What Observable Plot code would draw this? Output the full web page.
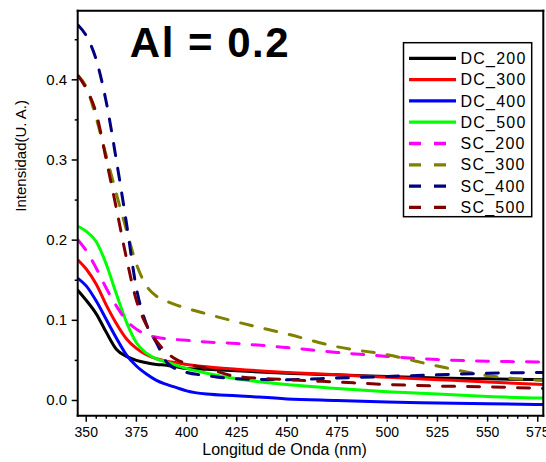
<!DOCTYPE html>
<html><head><meta charset="utf-8">
<script src="https://cdn.jsdelivr.net/npm/d3@7"></script>
<script src="https://cdn.jsdelivr.net/npm/@observablehq/plot@0.6"></script>
<style>
html,body{margin:0;padding:0;background:#fff;overflow:hidden;}
#chart{position:relative;width:546px;height:462px;}
#chart svg{display:block;}
</style></head><body><div id="chart"></div>
<script>
const wavelengths = [346, 350, 355, 360, 365, 370, 375, 380, 385, 390, 395, 400, 410, 425, 450, 475, 500, 525, 550, 578];
const DC_200 = [0.137, 0.125, 0.108, 0.085, 0.064, 0.055, 0.050, 0.047, 0.045, 0.044, 0.042, 0.040, 0.039, 0.037, 0.034, 0.032, 0.030, 0.028, 0.027, 0.026];
const DC_300 = [0.175, 0.164, 0.145, 0.119, 0.096, 0.077, 0.065, 0.057, 0.052, 0.049, 0.047, 0.045, 0.042, 0.039, 0.035, 0.032, 0.029, 0.026, 0.023, 0.020];
const DC_400 = [0.152, 0.143, 0.124, 0.101, 0.078, 0.057, 0.043, 0.033, 0.025, 0.020, 0.016, 0.012, 0.008, 0.006, 0.002, 0.000, -0.002, -0.003, -0.004, -0.005];
const DC_500 = [0.217, 0.211, 0.198, 0.170, 0.133, 0.098, 0.072, 0.059, 0.052, 0.048, 0.044, 0.040, 0.034, 0.027, 0.020, 0.015, 0.011, 0.008, 0.005, 0.003];
const SC_200 = [0.200, 0.187, 0.165, 0.140, 0.118, 0.100, 0.089, 0.082, 0.079, 0.077, 0.076, 0.075, 0.073, 0.071, 0.066, 0.060, 0.055, 0.051, 0.049, 0.048];
const SC_300 = [0.405, 0.391, 0.352, 0.305, 0.258, 0.213, 0.170, 0.143, 0.130, 0.124, 0.119, 0.115, 0.108, 0.098, 0.083, 0.067, 0.057, 0.043, 0.031, 0.025];
const SC_400 = [0.468, 0.455, 0.425, 0.372, 0.300, 0.222, 0.140, 0.095, 0.072, 0.048, 0.039, 0.035, 0.031, 0.027, 0.026, 0.028, 0.030, 0.032, 0.034, 0.035];
const SC_500 = [0.405, 0.389, 0.358, 0.300, 0.240, 0.178, 0.125, 0.094, 0.074, 0.060, 0.051, 0.046, 0.040, 0.030, 0.026, 0.023, 0.020, 0.018, 0.017, 0.015];

const seriesNames = ["DC_200", "DC_300", "DC_400", "DC_500", "SC_200", "SC_300", "SC_400", "SC_500"];
const seriesValues = [DC_200, DC_300, DC_400, DC_500, SC_200, SC_300, SC_400, SC_500];
const seriesColors = ["#000000", "#ff0000", "#0000ff", "#00ff00", "#ff00ff", "#808000", "#000080", "#800000"];
const seriesDashed = [false, false, false, false, true, true, true, true];

const xDomain = [346, 578];
const yDomain = [-0.0196, 0.4856];
const xMajorTicks = [350, 375, 400, 425, 450, 475, 500, 525, 550, 575];
const xMinorTicks = [355, 360, 365, 370, 380, 385, 390, 395, 405, 410, 415, 420, 430, 435, 440, 445, 455, 460, 465, 470, 480, 485, 490, 495, 505, 510, 515, 520, 530, 535, 540, 545, 555, 560, 565, 570];
const yMajorTicks = [0, 0.1, 0.2, 0.3, 0.4];
const yMinorTicks = [0.05, 0.15, 0.25, 0.35, 0.45];

const titleText = "Al = 0.2";
const xLabel = "Longitud de Onda (nm)";
const yLabel = "Intensidad(U. A.)";

const rows = seriesNames.flatMap((name, i) => wavelengths.map((w, j) => ({series: name, wl: w, v: seriesValues[i][j]})));

const lineMarks = seriesNames.map((name, i) => Plot.line(rows.filter(d => d.series === name), {
  x: "wl", y: "v", stroke: seriesColors[i], strokeWidth: 3,
  strokeDasharray: seriesDashed[i] ? "12,13" : null,
  curve: "monotone-x", clip: true
}));

const plot = Plot.plot({
  width: 546, height: 462,
  marginLeft: 77.7, marginRight: 2.7, marginTop: 10.7, marginBottom: 46.3,
  style: {fontFamily: "'Liberation Sans', Arial, sans-serif", background: "white", color: "black", overflow: "visible"},
  x: {domain: xDomain},
  y: {domain: yDomain},
  marks: [
    ...lineMarks,
    Plot.axisX(xMajorTicks, {tickSize: 6, tickPadding: 5, fontSize: 14, strokeWidth: 1.5, tickFormat: d => String(d), label: null}),
    Plot.axisX(xMinorTicks, {tickSize: 3, strokeWidth: 1.5, tickFormat: () => "", label: null}),
    Plot.axisY(yMajorTicks, {tickSize: 6, tickPadding: 5, fontSize: 15, strokeWidth: 1.5, tickFormat: d3.format(".1f"), label: null}),
    Plot.axisY(yMinorTicks, {tickSize: 3, strokeWidth: 1.5, tickFormat: () => "", label: null}),
    Plot.text([xLabel], {frameAnchor: "bottom", lineAnchor: "middle", dx: -26.5, dy: 33.3, fontSize: 16, fill: "black", text: d => d}),
    Plot.text([yLabel], {frameAnchor: "left", lineAnchor: "middle", dx: -57, dy: -2, rotate: -90, fontSize: 15, fill: "black", text: d => d}),
    Plot.text([titleText], {frameAnchor: "top-left", lineAnchor: "middle", textAnchor: "start", dx: 51.6, dy: 32.6, fontSize: 42, fontWeight: "bold", fill: "black", text: d => d})
  ]
});

document.getElementById("chart").appendChild(plot);

const svg = d3.select(plot);
svg.selectAll("text").filter(function() { return this.textContent === titleText; }).attr("letter-spacing", "1.5px");

// Plot frame: four edges from the plot's own scales
const sx = plot.scale("x"), sy = plot.scale("y");
const fx0 = sx.apply(xDomain[0]), fx1 = sx.apply(xDomain[1]);
const fy0 = sy.apply(yDomain[1]), fy1 = sy.apply(yDomain[0]);
const edges = [[fx0, fy0, fx1, fy0], [fx1, fy0, fx1, fy1], [fx0, fy1, fx1, fy1], [fx0, fy0, fx0, fy1]];
const fg = svg.append("g").attr("class", "frame-edges");
edges.forEach(([a, b, c, d]) => fg.append("line").attr("x1", a).attr("y1", b).attr("x2", c).attr("y2", d)
  .attr("stroke", "#000").attr("stroke-width", 2).attr("stroke-linecap", "square"));

// Legend
const lg = svg.append("g").attr("class", "legend").attr("text-anchor", "start");
lg.append("rect").attr("x", 403.5).attr("y", 42.7).attr("width", 128.2).attr("height", 174)
  .attr("fill", "white").attr("stroke", "black").attr("stroke-width", 1.5);
seriesNames.forEach((name, i) => {
  const yy = 58.3 + i * 21.3;
  lg.append("line").attr("x1", 409).attr("x2", 456).attr("y1", yy).attr("y2", yy)
    .attr("stroke", seriesColors[i]).attr("stroke-width", 3.3)
    .attr("stroke-dasharray", seriesDashed[i] ? "12,13" : null);
  lg.append("text").attr("x", 460.6).attr("y", yy).attr("dy", "0.35em")
    .attr("text-anchor", "start")
    .attr("font-size", 16).attr("letter-spacing", "1.2px").attr("fill", "black")
    .attr("font-family", "'Liberation Sans', Arial, sans-serif").text(name);
});
</script>
</body></html>
